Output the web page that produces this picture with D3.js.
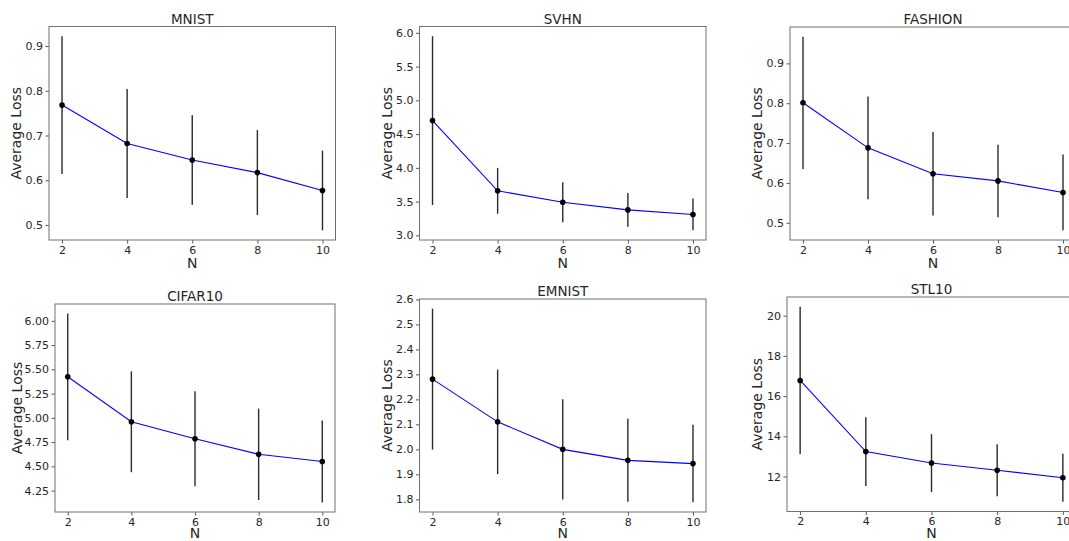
<!DOCTYPE html>
<html>
<head>
<meta charset="utf-8">
<script src="https://cdn.jsdelivr.net/npm/d3@7"></script>
<style>
    body { margin: 0; background: #fff; }
    text { font-family: "DejaVu Sans", sans-serif; fill: #262626; }
</style>
</head>
<body>
<script>
// data: mean loss and error (std) per N
var nValues = [2, 4, 6, 8, 10];
var xTicks = [2, 4, 6, 8, 10];

var mnistMean = [0.768, 0.682, 0.645, 0.617, 0.577];
var mnistErr  = [0.154, 0.122, 0.100, 0.095, 0.089];
var svhnMean = [4.70, 3.66, 3.49, 3.377, 3.31];
var svhnErr  = [1.25, 0.34, 0.295, 0.251, 0.235];
var fashionMean = [0.801, 0.688, 0.623, 0.605, 0.576];
var fashionErr  = [0.166, 0.129, 0.105, 0.091, 0.095];
var cifarMean = [5.423, 4.96, 4.785, 4.624, 4.55];
var cifarErr  = [0.653, 0.52, 0.49, 0.471, 0.423];
var emnistMean = [2.281, 2.11, 2.0, 1.956, 1.943];
var emnistErr  = [0.282, 0.209, 0.201, 0.166, 0.155];
var stlMean = [16.78, 13.24, 12.67, 12.31, 11.94];
var stlErr  = [3.665, 1.708, 1.435, 1.295, 1.195];

var mnistTicks = [0.5, 0.6, 0.7, 0.8, 0.9];
var svhnTicks = [3.0, 3.5, 4.0, 4.5, 5.0, 5.5, 6.0];
var fashionTicks = [0.5, 0.6, 0.7, 0.8, 0.9];
var cifarTicks = [4.25, 4.50, 4.75, 5.00, 5.25, 5.50, 5.75, 6.00];
var emnistTicks = [1.8, 1.9, 2.0, 2.1, 2.2, 2.3, 2.4, 2.5, 2.6];
var stlTicks = [12, 14, 16, 18, 20];

var titles = ["MNIST", "SVHN", "FASHION", "CIFAR10", "EMNIST", "STL10"];

var panels = [
    { title: titles[0], mean: mnistMean, err: mnistErr, ticks: mnistTicks, fmt: ".1f" },
    { title: titles[1], mean: svhnMean, err: svhnErr, ticks: svhnTicks, fmt: ".1f" },
    { title: titles[2], mean: fashionMean, err: fashionErr, ticks: fashionTicks, fmt: ".1f" },
    { title: titles[3], mean: cifarMean, err: cifarErr, ticks: cifarTicks, fmt: ".2f" },
    { title: titles[4], mean: emnistMean, err: emnistErr, ticks: emnistTicks, fmt: ".1f" },
    { title: titles[5], mean: stlMean, err: stlErr, ticks: stlTicks, fmt: "d" }
];

// axes boxes (left, right, top, bottom) and y-label x position
var boxes = [
    [49, 335.5, 26.5, 240, 16],
    [419.5, 706, 26.5, 240, 386.5],
    [790, 1076, 27, 240, 757],
    [55, 335, 304, 512, 16.5],
    [419.5, 706, 299, 512, 386.5],
    [787, 1076, 297, 511.5, 757]
];

var width = 1069,
    height = 541;

var svg = d3.select("body").append("svg")
    .attr("width", width)
    .attr("height", height);

panels.forEach(function(p, i) {
    var b = boxes[i];
    var left = b[0], right = b[1], top = b[2], bottom = b[3];

    // matplotlib-style 5% margins
    var lo = d3.min(p.mean, function(d, j) { return d - p.err[j]; }),
        hi = d3.max(p.mean, function(d, j) { return d + p.err[j]; }),
        pad = (hi - lo) * 0.05;

    var x = d3.scaleLinear().domain([1.6, 10.4]).range([left, right]);
    var y = d3.scaleLinear().domain([lo - pad, hi + pad]).range([bottom, top]);

    var g = svg.append("g");

    g.append("g")
        .attr("transform", "translate(0," + bottom + ")")
        .call(d3.axisBottom(x).tickValues(xTicks).tickSize(3.5).tickPadding(2.5).tickSizeOuter(0))
        .call(styleAxis);

    g.append("g")
        .attr("transform", "translate(" + left + ",0)")
        .call(d3.axisLeft(y).tickValues(p.ticks).tickFormat(d3.format(p.fmt)).tickSize(3.5).tickPadding(2.5).tickSizeOuter(0))
        .call(styleAxis);

    g.append("rect")
        .attr("x", left).attr("y", top)
        .attr("width", right - left).attr("height", bottom - top)
        .attr("fill", "none")
        .attr("stroke", "#707070")
        .attr("stroke-width", 1);

    var pts = nValues.map(function(n, j) { return { n: n, m: p.mean[j], e: p.err[j] }; });

    g.append("path")
        .datum(pts)
        .attr("fill", "none")
        .attr("stroke", "#0000ff")
        .attr("stroke-width", 1.1)
        .attr("d", d3.line().x(function(d) { return x(d.n); }).y(function(d) { return y(d.m); }));

    g.selectAll(".err")
        .data(pts)
        .enter().append("line")
        .attr("x1", function(d) { return x(d.n); })
        .attr("x2", function(d) { return x(d.n); })
        .attr("y1", function(d) { return y(d.m - d.e); })
        .attr("y2", function(d) { return y(d.m + d.e); })
        .attr("stroke", "#2a2a2a")
        .attr("stroke-width", 1.4);

    g.selectAll(".dot")
        .data(pts)
        .enter().append("circle")
        .attr("cx", function(d) { return x(d.n); })
        .attr("cy", function(d) { return y(d.m); })
        .attr("r", 2.8)
        .attr("fill", "#000");

    g.append("text")
        .attr("x", (left + right) / 2)
        .attr("y", top - 3)
        .attr("text-anchor", "middle")
        .style("font-size", "13.5px")
        .text(p.title);

    g.append("text")
        .attr("x", (left + right) / 2)
        .attr("y", Math.min(bottom + 28, height - 3))
        .attr("text-anchor", "middle")
        .style("font-size", "14px")
        .text("N");

    g.append("text")
        .attr("transform", "translate(" + (b[4] + 5) + "," + ((top + bottom) / 2) + ") rotate(-90)")
        .attr("text-anchor", "middle")
        .style("font-size", "14px")
        .text("Average Loss");
});

function styleAxis(sel) {
    sel.select(".domain").remove();
    sel.selectAll(".tick line").attr("stroke", "#444").attr("stroke-width", 0.9);
    sel.selectAll(".tick text").style("font-size", "11px").attr("fill", "#262626");
}
</script>
</body>
</html>
